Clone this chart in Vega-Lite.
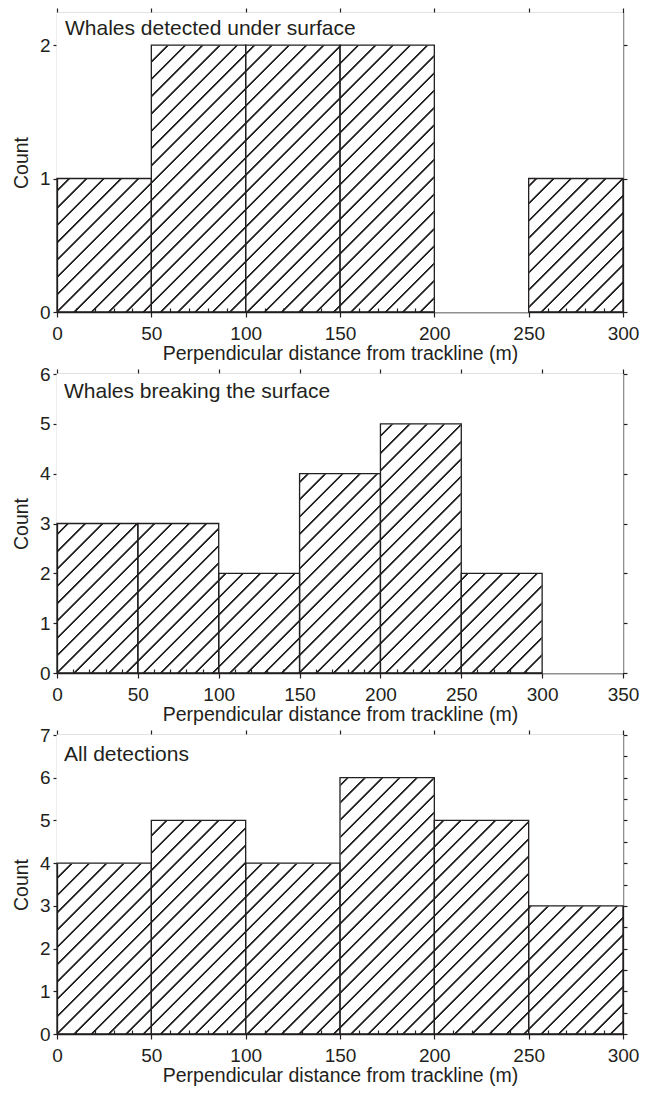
{
"$schema": "https://vega.github.io/schema/vega-lite/v6.json",
"background": "white",
"padding": {"left": 11, "top": 7, "right": 5, "bottom": 4},
"spacing": 2,
"datasets": {
"under": [{"start":0,"end":50,"count":1},{"start":50,"end":100,"count":2},{"start":100,"end":150,"count":2},{"start":150,"end":200,"count":2},{"start":200,"end":250,"count":0},{"start":250,"end":300,"count":1}],
"breaking": [{"start":0,"end":50,"count":3},{"start":50,"end":100,"count":3},{"start":100,"end":150,"count":2},{"start":150,"end":200,"count":4},{"start":200,"end":250,"count":5},{"start":250,"end":300,"count":2},{"start":300,"end":350,"count":0}],
"all": [{"start":0,"end":50,"count":4},{"start":50,"end":100,"count":5},{"start":100,"end":150,"count":4},{"start":150,"end":200,"count":6},{"start":200,"end":250,"count":5},{"start":250,"end":300,"count":3}],
"t1": [{"label":"Whales detected under surface"}],
"t2": [{"label":"Whales breaking the surface"}],
"t3": [{"label":"All detections"}]
},
"vconcat": [
{
"width": 566, "height": 299,
"data": {"name": "under"},
"resolve": {"axis": {"x": "independent", "y": "independent"}},
"layer": [
{
"mark": {"type": "rect", "fill": "white", "stroke": "white", "strokeWidth": 1},
"encoding": {
"x": {"field": "start", "type": "quantitative", "scale": {"domain": [0,300], "nice": false, "zero": false},
"axis": {"orient": "bottom", "values": [0,50,100,150,200,250,300], "tickSize": 5, "labelPadding": 7, "title": "Perpendicular distance from trackline (m)", "titlePadding": 1, "format": "d"}},
"x2": {"field": "end"},
"y": {"field": "count", "type": "quantitative", "scale": {"domain": [0,2.24], "nice": false},
"axis": {"orient": "left", "values": [0,1,2], "tickSize": 4, "labelPadding": 3, "title": "Count", "titlePadding": 8, "format": "d"}},
"y2": {"datum": 2.24}
}
},
{
"transform": [{"filter": "datum.count > 0"}],
"mark": {"type": "rect", "fill": "white", "fillOpacity": 0, "stroke": "#231f20", "strokeWidth": 1.3},
"encoding": {
"x": {"field": "start", "type": "quantitative", "scale": {"domain": [0,300], "nice": false, "zero": false},
"axis": {"orient": "top", "values": [0,50,100,150,200,250,300], "labels": false, "title": null, "tickSize": 5}},
"x2": {"field": "end"},
"y": {"field": "count", "type": "quantitative", "scale": {"domain": [0,2.24], "nice": false},
"axis": {"orient": "right", "values": [0,1,2], "tickSize": 4, "labels": false, "title": null}},
"y2": {"datum": 0}
}
},
{
"transform": [{"filter": "datum.count > 0"}],
"mark": {"type": "rect", "opacity": 0},
"encoding": {
"x": {"field": "start", "type": "quantitative", "scale": {"domain": [0,300], "nice": false, "zero": false},
"axis": {"orient": "top", "offset": -4, "domain": false, "values": [10,20,30,40,60,70,80,90,110,120,130,140,160,170,180,190,210,220,230,240,260,270,280,290], "labels": false, "title": null, "tickSize": 4}},
"x2": {"field": "end"},
"y": {"field": "count", "type": "quantitative", "scale": {"domain": [0,2.24], "nice": false}, "axis": null},
"y2": {"datum": 0}
}
},
{
"data": {"name": "t1"},
"mark": {"type": "text", "align": "left", "baseline": "top", "dx": 8, "dy": 5, "font": "Liberation Sans", "fontSize": 21, "color": "#231f20"},
"encoding": {
"x": {"datum": 0, "type": "quantitative", "axis": {"orient": "bottom", "offset": -4, "domain": false, "values": [10,20,30,40,60,70,80,90,110,120,130,140,160,170,180,190,210,220,230,240,260,270,280,290], "labels": false, "title": null, "tickSize": 4}},
"y": {"datum": 2.24, "type": "quantitative", "axis": null},
"text": {"field": "label"}
}
}
]
},
{
"width": 566, "height": 299,
"data": {"name": "breaking"},
"resolve": {"axis": {"x": "independent", "y": "independent"}},
"layer": [
{
"mark": {"type": "rect", "fill": "white", "stroke": "white", "strokeWidth": 1},
"encoding": {
"x": {"field": "start", "type": "quantitative", "scale": {"domain": [0,350], "nice": false, "zero": false},
"axis": {"orient": "bottom", "values": [0,50,100,150,200,250,300,350], "tickSize": 5, "labelPadding": 7, "title": "Perpendicular distance from trackline (m)", "titlePadding": 1, "format": "d"}},
"x2": {"field": "end"},
"y": {"field": "count", "type": "quantitative", "scale": {"domain": [0,6], "nice": false},
"axis": {"orient": "left", "values": [0,1,2,3,4,5,6], "tickSize": 4, "labelPadding": 3, "title": "Count", "titlePadding": 8, "format": "d"}},
"y2": {"datum": 6}
}
},
{
"transform": [{"filter": "datum.count > 0"}],
"mark": {"type": "rect", "fill": "white", "fillOpacity": 0, "stroke": "#231f20", "strokeWidth": 1.3},
"encoding": {
"x": {"field": "start", "type": "quantitative", "scale": {"domain": [0,350], "nice": false, "zero": false},
"axis": {"orient": "top", "values": [0,50,100,150,200,250,300,350], "labels": false, "title": null, "tickSize": 5}},
"x2": {"field": "end"},
"y": {"field": "count", "type": "quantitative", "scale": {"domain": [0,6], "nice": false},
"axis": {"orient": "right", "values": [0,1,2,3,4,5,6], "tickSize": 4, "labels": false, "title": null}},
"y2": {"datum": 0}
}
},
{
"transform": [{"filter": "datum.count > 0"}],
"mark": {"type": "rect", "opacity": 0},
"encoding": {
"x": {"field": "start", "type": "quantitative", "scale": {"domain": [0,350], "nice": false, "zero": false},
"axis": {"orient": "top", "offset": -4, "domain": false, "values": [10,20,30,40,60,70,80,90,110,120,130,140,160,170,180,190,210,220,230,240,260,270,280,290,310,320,330,340], "labels": false, "title": null, "tickSize": 4}},
"x2": {"field": "end"},
"y": {"field": "count", "type": "quantitative", "scale": {"domain": [0,6], "nice": false}, "axis": null},
"y2": {"datum": 0}
}
},
{
"data": {"name": "t2"},
"mark": {"type": "text", "align": "left", "baseline": "top", "dx": 7, "dy": 7, "font": "Liberation Sans", "fontSize": 21, "color": "#231f20"},
"encoding": {
"x": {"datum": 0, "type": "quantitative", "axis": {"orient": "bottom", "offset": -4, "domain": false, "values": [10,20,30,40,60,70,80,90,110,120,130,140,160,170,180,190,210,220,230,240,260,270,280,290,310,320,330,340], "labels": false, "title": null, "tickSize": 4}},
"y": {"datum": 6, "type": "quantitative", "axis": null},
"text": {"field": "label"}
}
}
]
},
{
"width": 566, "height": 299,
"data": {"name": "all"},
"resolve": {"axis": {"x": "independent", "y": "independent"}},
"layer": [
{
"mark": {"type": "rect", "fill": "white", "stroke": "white", "strokeWidth": 1},
"encoding": {
"x": {"field": "start", "type": "quantitative", "scale": {"domain": [0,300], "nice": false, "zero": false},
"axis": {"orient": "bottom", "values": [0,50,100,150,200,250,300], "tickSize": 5, "labelPadding": 7, "title": "Perpendicular distance from trackline (m)", "titlePadding": 1, "format": "d"}},
"x2": {"field": "end"},
"y": {"field": "count", "type": "quantitative", "scale": {"domain": [0,7], "nice": false},
"axis": {"orient": "left", "values": [0,0.5,1,1.5,2,2.5,3,3.5,4,4.5,5,5.5,6,6.5,7], "labelExpr": "datum.value % 1 === 0 ? datum.label : ''", "tickSize": 4, "labelPadding": 3, "title": "Count", "titlePadding": 8, "format": "d"}},
"y2": {"datum": 7}
}
},
{
"transform": [{"filter": "datum.count > 0"}],
"mark": {"type": "rect", "fill": "white", "fillOpacity": 0, "stroke": "#231f20", "strokeWidth": 1.3},
"encoding": {
"x": {"field": "start", "type": "quantitative", "scale": {"domain": [0,300], "nice": false, "zero": false},
"axis": {"orient": "top", "values": [0,50,100,150,200,250,300], "labels": false, "title": null, "tickSize": 5}},
"x2": {"field": "end"},
"y": {"field": "count", "type": "quantitative", "scale": {"domain": [0,7], "nice": false},
"axis": {"orient": "right", "values": [0,0.5,1,1.5,2,2.5,3,3.5,4,4.5,5,5.5,6,6.5,7], "tickSize": 4, "labels": false, "title": null}},
"y2": {"datum": 0}
}
},
{
"transform": [{"filter": "datum.count > 0"}],
"mark": {"type": "rect", "opacity": 0},
"encoding": {
"x": {"field": "start", "type": "quantitative", "scale": {"domain": [0,300], "nice": false, "zero": false},
"axis": {"orient": "top", "offset": -4, "domain": false, "values": [10,20,30,40,60,70,80,90,110,120,130,140,160,170,180,190,210,220,230,240,260,270,280,290], "labels": false, "title": null, "tickSize": 4}},
"x2": {"field": "end"},
"y": {"field": "count", "type": "quantitative", "scale": {"domain": [0,7], "nice": false}, "axis": null},
"y2": {"datum": 0}
}
},
{
"data": {"name": "t3"},
"mark": {"type": "text", "align": "left", "baseline": "top", "dx": 7, "dy": 8.5, "font": "Liberation Sans", "fontSize": 21, "color": "#231f20"},
"encoding": {
"x": {"datum": 0, "type": "quantitative", "axis": {"orient": "bottom", "offset": -4, "domain": false, "values": [10,20,30,40,60,70,80,90,110,120,130,140,160,170,180,190,210,220,230,240,260,270,280,290], "labels": false, "title": null, "tickSize": 4}},
"y": {"datum": 7, "type": "quantitative", "axis": null},
"text": {"field": "label"}
}
}
]
}
],
"config": {
"font": "Liberation Sans",
"view": {"stroke": null, "fill": {"gradient": "linear", "x1": 0, "y1": 0, "x2": 1.19483, "y2": 0.63119, "stops": [
{"offset":0.0037,"color":"#fff"},{"offset":0.0047,"color":"#222"},{"offset":0.0065,"color":"#222"},{"offset":0.0075,"color":"#fff"},
{"offset":0.0237,"color":"#fff"},{"offset":0.0247,"color":"#222"},{"offset":0.0265,"color":"#222"},{"offset":0.0275,"color":"#fff"},
{"offset":0.0437,"color":"#fff"},{"offset":0.0447,"color":"#222"},{"offset":0.0465,"color":"#222"},{"offset":0.0475,"color":"#fff"},
{"offset":0.0637,"color":"#fff"},{"offset":0.0647,"color":"#222"},{"offset":0.0665,"color":"#222"},{"offset":0.0675,"color":"#fff"},
{"offset":0.0837,"color":"#fff"},{"offset":0.0847,"color":"#222"},{"offset":0.0865,"color":"#222"},{"offset":0.0875,"color":"#fff"},
{"offset":0.1037,"color":"#fff"},{"offset":0.1047,"color":"#222"},{"offset":0.1065,"color":"#222"},{"offset":0.1075,"color":"#fff"},
{"offset":0.1237,"color":"#fff"},{"offset":0.1247,"color":"#222"},{"offset":0.1265,"color":"#222"},{"offset":0.1275,"color":"#fff"},
{"offset":0.1437,"color":"#fff"},{"offset":0.1447,"color":"#222"},{"offset":0.1465,"color":"#222"},{"offset":0.1475,"color":"#fff"},
{"offset":0.1637,"color":"#fff"},{"offset":0.1647,"color":"#222"},{"offset":0.1665,"color":"#222"},{"offset":0.1675,"color":"#fff"},
{"offset":0.1837,"color":"#fff"},{"offset":0.1847,"color":"#222"},{"offset":0.1865,"color":"#222"},{"offset":0.1875,"color":"#fff"},
{"offset":0.2037,"color":"#fff"},{"offset":0.2047,"color":"#222"},{"offset":0.2065,"color":"#222"},{"offset":0.2075,"color":"#fff"},
{"offset":0.2237,"color":"#fff"},{"offset":0.2247,"color":"#222"},{"offset":0.2265,"color":"#222"},{"offset":0.2275,"color":"#fff"},
{"offset":0.2437,"color":"#fff"},{"offset":0.2447,"color":"#222"},{"offset":0.2465,"color":"#222"},{"offset":0.2475,"color":"#fff"},
{"offset":0.2637,"color":"#fff"},{"offset":0.2647,"color":"#222"},{"offset":0.2665,"color":"#222"},{"offset":0.2675,"color":"#fff"},
{"offset":0.2837,"color":"#fff"},{"offset":0.2847,"color":"#222"},{"offset":0.2865,"color":"#222"},{"offset":0.2875,"color":"#fff"},
{"offset":0.3037,"color":"#fff"},{"offset":0.3047,"color":"#222"},{"offset":0.3065,"color":"#222"},{"offset":0.3075,"color":"#fff"},
{"offset":0.3237,"color":"#fff"},{"offset":0.3247,"color":"#222"},{"offset":0.3265,"color":"#222"},{"offset":0.3275,"color":"#fff"},
{"offset":0.3437,"color":"#fff"},{"offset":0.3447,"color":"#222"},{"offset":0.3465,"color":"#222"},{"offset":0.3475,"color":"#fff"},
{"offset":0.3637,"color":"#fff"},{"offset":0.3647,"color":"#222"},{"offset":0.3665,"color":"#222"},{"offset":0.3675,"color":"#fff"},
{"offset":0.3837,"color":"#fff"},{"offset":0.3847,"color":"#222"},{"offset":0.3865,"color":"#222"},{"offset":0.3875,"color":"#fff"},
{"offset":0.4037,"color":"#fff"},{"offset":0.4047,"color":"#222"},{"offset":0.4065,"color":"#222"},{"offset":0.4075,"color":"#fff"},
{"offset":0.4237,"color":"#fff"},{"offset":0.4247,"color":"#222"},{"offset":0.4265,"color":"#222"},{"offset":0.4275,"color":"#fff"},
{"offset":0.4437,"color":"#fff"},{"offset":0.4447,"color":"#222"},{"offset":0.4465,"color":"#222"},{"offset":0.4475,"color":"#fff"},
{"offset":0.4637,"color":"#fff"},{"offset":0.4647,"color":"#222"},{"offset":0.4665,"color":"#222"},{"offset":0.4675,"color":"#fff"},
{"offset":0.4837,"color":"#fff"},{"offset":0.4847,"color":"#222"},{"offset":0.4865,"color":"#222"},{"offset":0.4875,"color":"#fff"},
{"offset":0.5037,"color":"#fff"},{"offset":0.5047,"color":"#222"},{"offset":0.5065,"color":"#222"},{"offset":0.5075,"color":"#fff"},
{"offset":0.5237,"color":"#fff"},{"offset":0.5247,"color":"#222"},{"offset":0.5265,"color":"#222"},{"offset":0.5275,"color":"#fff"},
{"offset":0.5437,"color":"#fff"},{"offset":0.5447,"color":"#222"},{"offset":0.5465,"color":"#222"},{"offset":0.5475,"color":"#fff"},
{"offset":0.5637,"color":"#fff"},{"offset":0.5647,"color":"#222"},{"offset":0.5665,"color":"#222"},{"offset":0.5675,"color":"#fff"},
{"offset":0.5837,"color":"#fff"},{"offset":0.5847,"color":"#222"},{"offset":0.5865,"color":"#222"},{"offset":0.5875,"color":"#fff"},
{"offset":0.6037,"color":"#fff"},{"offset":0.6047,"color":"#222"},{"offset":0.6065,"color":"#222"},{"offset":0.6075,"color":"#fff"},
{"offset":0.6237,"color":"#fff"},{"offset":0.6247,"color":"#222"},{"offset":0.6265,"color":"#222"},{"offset":0.6275,"color":"#fff"},
{"offset":0.6437,"color":"#fff"},{"offset":0.6447,"color":"#222"},{"offset":0.6465,"color":"#222"},{"offset":0.6475,"color":"#fff"},
{"offset":0.6637,"color":"#fff"},{"offset":0.6647,"color":"#222"},{"offset":0.6665,"color":"#222"},{"offset":0.6675,"color":"#fff"},
{"offset":0.6837,"color":"#fff"},{"offset":0.6847,"color":"#222"},{"offset":0.6865,"color":"#222"},{"offset":0.6875,"color":"#fff"},
{"offset":0.7037,"color":"#fff"},{"offset":0.7047,"color":"#222"},{"offset":0.7065,"color":"#222"},{"offset":0.7075,"color":"#fff"},
{"offset":0.7237,"color":"#fff"},{"offset":0.7247,"color":"#222"},{"offset":0.7265,"color":"#222"},{"offset":0.7275,"color":"#fff"},
{"offset":0.7437,"color":"#fff"},{"offset":0.7447,"color":"#222"},{"offset":0.7465,"color":"#222"},{"offset":0.7475,"color":"#fff"},
{"offset":0.7637,"color":"#fff"},{"offset":0.7647,"color":"#222"},{"offset":0.7665,"color":"#222"},{"offset":0.7675,"color":"#fff"},
{"offset":0.7837,"color":"#fff"},{"offset":0.7847,"color":"#222"},{"offset":0.7865,"color":"#222"},{"offset":0.7875,"color":"#fff"},
{"offset":0.8037,"color":"#fff"},{"offset":0.8047,"color":"#222"},{"offset":0.8065,"color":"#222"},{"offset":0.8075,"color":"#fff"},
{"offset":0.8237,"color":"#fff"},{"offset":0.8247,"color":"#222"},{"offset":0.8265,"color":"#222"},{"offset":0.8275,"color":"#fff"},
{"offset":0.8437,"color":"#fff"},{"offset":0.8447,"color":"#222"},{"offset":0.8465,"color":"#222"},{"offset":0.8475,"color":"#fff"},
{"offset":0.8637,"color":"#fff"},{"offset":0.8647,"color":"#222"},{"offset":0.8665,"color":"#222"},{"offset":0.8675,"color":"#fff"},
{"offset":0.8837,"color":"#fff"},{"offset":0.8847,"color":"#222"},{"offset":0.8865,"color":"#222"},{"offset":0.8875,"color":"#fff"},
{"offset":0.9037,"color":"#fff"},{"offset":0.9047,"color":"#222"},{"offset":0.9065,"color":"#222"},{"offset":0.9075,"color":"#fff"},
{"offset":0.9237,"color":"#fff"},{"offset":0.9247,"color":"#222"},{"offset":0.9265,"color":"#222"},{"offset":0.9275,"color":"#fff"},
{"offset":0.9437,"color":"#fff"},{"offset":0.9447,"color":"#222"},{"offset":0.9465,"color":"#222"},{"offset":0.9475,"color":"#fff"},
{"offset":0.9637,"color":"#fff"},{"offset":0.9647,"color":"#222"},{"offset":0.9665,"color":"#222"},{"offset":0.9675,"color":"#fff"},
{"offset":0.9837,"color":"#fff"},{"offset":0.9847,"color":"#222"},{"offset":0.9865,"color":"#222"},{"offset":0.9875,"color":"#fff"}
]}},
"axis": {"grid": false, "zindex": 1, "domainColor": "#231f20", "domainWidth": 1.3, "tickColor": "#231f20", "tickWidth": 1.2, "labelFont": "Liberation Sans", "labelFontSize": 19, "labelColor": "#231f20", "titleFont": "Liberation Sans", "titleFontSize": 19.5, "titleFontWeight": "normal", "titleColor": "#231f20", "labelFlush": false, "labelOverlap": false}
}
}
